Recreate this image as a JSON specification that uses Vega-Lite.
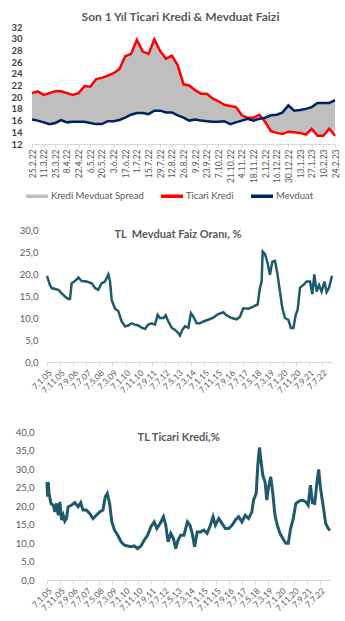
{
  "$schema": "https://vega.github.io/schema/vega-lite/v6.json",
  "padding": {"left": 10, "top": 11, "right": 0, "bottom": 0},
  "background": "white",
  "config": {
    "font": "Lato",
    "view": {"stroke": null},
    "axis": {"labelColor": "#595959", "labelFont": "Lato", "grid": false, "title": null, "domainColor": "#d9d9d9", "tickColor": "#d9d9d9", "labelFlush": false, "labelOverlap": false},
    "title": {"color": "#595959", "font": "Lato", "fontWeight": "bold"},
    "legend": {"labelFont": "Lato", "labelColor": "#595959"}
  },
  "resolve": {"scale": {"color": "independent"}, "legend": {"color": "independent"}},
  "datasets": {
    "top": [
      {"d":"2022-02-25","t":20.7,"m":16.2},{"d":"2022-03-04","t":21.0,"m":16.0},{"d":"2022-03-11","t":20.4,"m":15.7},{"d":"2022-03-18","t":20.7,"m":15.4},{"d":"2022-03-25","t":21.0,"m":15.6},{"d":"2022-04-01","t":21.0,"m":16.1},{"d":"2022-04-08","t":20.7,"m":15.7},{"d":"2022-04-15","t":20.4,"m":15.8},{"d":"2022-04-22","t":20.7,"m":15.8},{"d":"2022-04-29","t":21.9,"m":15.8},{"d":"2022-05-06","t":21.8,"m":15.6},{"d":"2022-05-13","t":23.1,"m":15.4},{"d":"2022-05-20","t":23.3,"m":15.4},{"d":"2022-05-27","t":23.7,"m":15.9},{"d":"2022-06-03","t":24.1,"m":15.9},{"d":"2022-06-10","t":24.8,"m":16.1},{"d":"2022-06-17","t":27.0,"m":16.5},{"d":"2022-06-24","t":27.4,"m":17.0},{"d":"2022-07-01","t":29.8,"m":17.3},{"d":"2022-07-08","t":27.8,"m":17.3},{"d":"2022-07-15","t":27.4,"m":17.1},{"d":"2022-07-22","t":29.9,"m":17.7},{"d":"2022-07-29","t":27.9,"m":17.7},{"d":"2022-08-05","t":26.6,"m":17.4},{"d":"2022-08-12","t":27.1,"m":17.4},{"d":"2022-08-19","t":25.5,"m":16.9},{"d":"2022-08-26","t":22.2,"m":16.5},{"d":"2022-09-02","t":22.0,"m":16.0},{"d":"2022-09-09","t":21.2,"m":16.2},{"d":"2022-09-16","t":20.6,"m":16.0},{"d":"2022-09-23","t":20.6,"m":15.9},{"d":"2022-09-30","t":19.8,"m":15.8},{"d":"2022-10-07","t":19.3,"m":15.8},{"d":"2022-10-14","t":18.7,"m":15.9},{"d":"2022-10-21","t":18.5,"m":15.4},{"d":"2022-10-28","t":18.3,"m":15.7},{"d":"2022-11-04","t":16.9,"m":16.0},{"d":"2022-11-11","t":16.5,"m":16.3},{"d":"2022-11-18","t":16.5,"m":16.0},{"d":"2022-11-25","t":17.0,"m":16.3},{"d":"2022-12-02","t":15.8,"m":16.5},{"d":"2022-12-09","t":14.2,"m":16.9},{"d":"2022-12-16","t":13.9,"m":17.0},{"d":"2022-12-23","t":13.7,"m":17.4},{"d":"2022-12-30","t":14.1,"m":18.6},{"d":"2023-01-06","t":14.0,"m":17.7},{"d":"2023-01-13","t":13.9,"m":17.8},{"d":"2023-01-20","t":13.6,"m":18.0},{"d":"2023-01-27","t":14.6,"m":18.3},{"d":"2023-02-03","t":13.4,"m":19.0},{"d":"2023-02-10","t":13.4,"m":19.0},{"d":"2023-02-17","t":14.6,"m":19.0},{"d":"2023-02-24","t":13.4,"m":19.5}
    ],
    "mev": [
      {"d":"2005-01-07","v":19.6},{"d":"2005-03-15","v":17.5},{"d":"2005-04-25","v":16.8},{"d":"2005-07-12","v":16.6},{"d":"2005-09-28","v":16.4},{"d":"2005-12-15","v":15.6},{"d":"2006-03-01","v":14.9},{"d":"2006-05-15","v":14.3},{"d":"2006-06-25","v":14.3},{"d":"2006-08-03","v":17.9},{"d":"2006-10-18","v":18.4},{"d":"2007-01-06","v":19.2},{"d":"2007-03-22","v":18.4},{"d":"2007-07-15","v":18.3},{"d":"2007-11-12","v":17.9},{"d":"2008-01-28","v":16.8},{"d":"2008-04-12","v":16.4},{"d":"2008-07-01","v":17.9},{"d":"2008-09-15","v":18.3},{"d":"2008-12-03","v":19.9},{"d":"2009-01-10","v":18.3},{"d":"2009-02-18","v":14.1},{"d":"2009-05-06","v":12.1},{"d":"2009-07-21","v":11.6},{"d":"2009-10-08","v":9.2},{"d":"2009-12-24","v":8.1},{"d":"2010-03-10","v":8.3},{"d":"2010-05-27","v":8.8},{"d":"2010-08-12","v":8.5},{"d":"2010-11-01","v":8.3},{"d":"2011-01-15","v":7.8},{"d":"2011-04-03","v":7.5},{"d":"2011-06-18","v":8.5},{"d":"2011-09-06","v":8.8},{"d":"2011-11-21","v":8.5},{"d":"2012-01-22","v":10.7},{"d":"2012-03-15","v":10.0},{"d":"2012-06-02","v":10.0},{"d":"2012-07-25","v":10.6},{"d":"2012-09-27","v":9.2},{"d":"2012-12-12","v":7.8},{"d":"2013-03-01","v":7.3},{"d":"2013-05-15","v":6.6},{"d":"2013-06-24","v":6.0},{"d":"2013-08-18","v":7.3},{"d":"2013-10-18","v":8.1},{"d":"2014-01-04","v":7.8},{"d":"2014-03-06","v":11.1},{"d":"2014-05-01","v":10.3},{"d":"2014-07-16","v":8.8},{"d":"2014-10-01","v":8.8},{"d":"2014-12-18","v":9.2},{"d":"2015-04-12","v":9.6},{"d":"2015-08-07","v":10.1},{"d":"2015-12-01","v":10.9},{"d":"2016-03-27","v":11.3},{"d":"2016-06-12","v":10.6},{"d":"2016-10-07","v":10.0},{"d":"2017-02-01","v":9.7},{"d":"2017-04-18","v":10.3},{"d":"2017-07-03","v":12.2},{"d":"2017-10-28","v":12.1},{"d":"2018-02-23","v":12.6},{"d":"2018-06-03","v":13.1},{"d":"2018-07-25","v":16.8},{"d":"2018-09-03","v":18.3},{"d":"2018-09-27","v":25.1},{"d":"2018-11-21","v":24.5},{"d":"2019-01-22","v":22.4},{"d":"2019-03-15","v":19.8},{"d":"2019-05-09","v":22.8},{"d":"2019-07-10","v":23.0},{"d":"2019-09-09","v":19.8},{"d":"2019-11-03","v":16.0},{"d":"2019-12-28","v":12.2},{"d":"2020-02-28","v":10.0},{"d":"2020-05-15","v":9.6},{"d":"2020-07-15","v":7.7},{"d":"2020-09-09","v":7.7},{"d":"2020-11-03","v":10.7},{"d":"2020-12-18","v":11.9},{"d":"2021-02-12","v":16.9},{"d":"2021-04-28","v":17.5},{"d":"2021-07-15","v":18.3},{"d":"2021-10-01","v":18.3},{"d":"2021-11-24","v":15.4},{"d":"2022-01-09","v":19.9},{"d":"2022-03-04","v":16.0},{"d":"2022-04-28","v":17.5},{"d":"2022-06-28","v":16.0},{"d":"2022-09-01","v":18.3},{"d":"2022-10-22","v":15.9},{"d":"2022-12-15","v":16.8},{"d":"2023-02-24","v":19.6}
    ],
    "kredi": [
      {"d":"2005-01-07","v":26.5},{"d":"2005-01-21","v":22.5},{"d":"2005-02-04","v":26.5},{"d":"2005-02-24","v":23.4},{"d":"2005-04-10","v":20.7},{"d":"2005-06-03","v":20.2},{"d":"2005-07-11","v":18.4},{"d":"2005-08-19","v":20.7},{"d":"2005-09-28","v":17.5},{"d":"2005-11-06","v":21.1},{"d":"2005-12-14","v":16.2},{"d":"2006-01-22","v":17.5},{"d":"2006-02-28","v":15.9},{"d":"2006-04-08","v":16.6},{"d":"2006-05-16","v":19.8},{"d":"2006-08-03","v":20.2},{"d":"2006-10-19","v":20.9},{"d":"2007-01-06","v":19.8},{"d":"2007-03-07","v":20.9},{"d":"2007-04-29","v":18.9},{"d":"2007-07-16","v":18.9},{"d":"2007-10-03","v":18.0},{"d":"2007-12-19","v":16.6},{"d":"2008-03-06","v":17.5},{"d":"2008-05-21","v":18.4},{"d":"2008-08-08","v":18.9},{"d":"2008-10-02","v":22.5},{"d":"2008-11-17","v":23.4},{"d":"2009-01-11","v":20.7},{"d":"2009-03-04","v":15.7},{"d":"2009-05-05","v":13.5},{"d":"2009-07-21","v":12.1},{"d":"2009-10-08","v":10.3},{"d":"2009-12-23","v":9.4},{"d":"2010-03-10","v":9.2},{"d":"2010-05-26","v":9.0},{"d":"2010-08-13","v":9.2},{"d":"2010-10-28","v":8.5},{"d":"2011-01-15","v":9.2},{"d":"2011-04-02","v":10.8},{"d":"2011-06-18","v":12.1},{"d":"2011-09-05","v":14.4},{"d":"2011-11-20","v":15.7},{"d":"2012-01-21","v":13.9},{"d":"2012-04-08","v":15.3},{"d":"2012-06-24","v":17.1},{"d":"2012-08-17","v":14.8},{"d":"2012-10-11","v":10.3},{"d":"2012-12-12","v":12.6},{"d":"2013-02-13","v":11.2},{"d":"2013-04-07","v":8.5},{"d":"2013-06-01","v":10.8},{"d":"2013-08-02","v":12.1},{"d":"2013-10-18","v":12.1},{"d":"2014-01-05","v":15.7},{"d":"2014-03-06","v":14.8},{"d":"2014-04-28","v":12.6},{"d":"2014-06-22","v":9.0},{"d":"2014-08-23","v":13.0},{"d":"2014-11-10","v":13.0},{"d":"2015-01-25","v":13.5},{"d":"2015-04-12","v":12.6},{"d":"2015-06-27","v":14.8},{"d":"2015-08-28","v":17.1},{"d":"2015-10-22","v":14.8},{"d":"2016-01-10","v":16.6},{"d":"2016-03-25","v":15.3},{"d":"2016-06-12","v":13.9},{"d":"2016-08-28","v":13.9},{"d":"2016-11-14","v":14.8},{"d":"2017-02-02","v":16.2},{"d":"2017-04-17","v":17.1},{"d":"2017-07-04","v":15.7},{"d":"2017-09-20","v":17.5},{"d":"2017-12-07","v":16.6},{"d":"2018-02-22","v":18.4},{"d":"2018-04-02","v":21.6},{"d":"2018-06-03","v":23.4},{"d":"2018-07-10","v":31.0},{"d":"2018-08-18","v":35.8},{"d":"2018-09-26","v":31.9},{"d":"2018-11-05","v":28.3},{"d":"2018-12-28","v":26.5},{"d":"2019-02-06","v":21.6},{"d":"2019-03-14","v":24.7},{"d":"2019-05-08","v":27.9},{"d":"2019-06-23","v":23.8},{"d":"2019-08-17","v":17.5},{"d":"2019-10-10","v":14.8},{"d":"2019-12-12","v":12.6},{"d":"2020-02-27","v":11.0},{"d":"2020-04-28","v":9.9},{"d":"2020-06-22","v":9.9},{"d":"2020-08-16","v":13.9},{"d":"2020-10-17","v":16.6},{"d":"2020-12-18","v":20.7},{"d":"2021-03-05","v":21.3},{"d":"2021-05-20","v":21.6},{"d":"2021-08-07","v":21.1},{"d":"2021-10-01","v":20.2},{"d":"2021-11-23","v":25.6},{"d":"2022-01-10","v":20.9},{"d":"2022-03-04","v":20.7},{"d":"2022-04-26","v":26.5},{"d":"2022-06-05","v":29.9},{"d":"2022-07-13","v":25.2},{"d":"2022-09-14","v":20.2},{"d":"2022-11-15","v":15.3},{"d":"2023-01-09","v":14.0},{"d":"2023-02-24","v":13.4}
    ]
  },
  "spacing": 24,
  "vconcat": [
    {
      "data": {"name": "top"},
      "width": 288,
      "height": 117,
      "title": {"text": "Son 1 Yıl Ticari Kredi & Mevduat Faizi", "fontSize": 12, "anchor": "middle", "frame": "bounds", "offset": -2},
      "encoding": {
        "x": {"field": "d", "type": "temporal",
          "scale": {"domain": [{"year":2022,"month":2,"date":25},{"year":2023,"month":2,"date":24}], "range": [-15, 288]},
          "axis": {"values": [{"year":2022,"month":2,"date":25},{"year":2022,"month":3,"date":11},{"year":2022,"month":3,"date":25},{"year":2022,"month":4,"date":8},{"year":2022,"month":4,"date":22},{"year":2022,"month":5,"date":6},{"year":2022,"month":5,"date":20},{"year":2022,"month":6,"date":3},{"year":2022,"month":6,"date":17},{"year":2022,"month":7,"date":1},{"year":2022,"month":7,"date":15},{"year":2022,"month":7,"date":29},{"year":2022,"month":8,"date":12},{"year":2022,"month":8,"date":26},{"year":2022,"month":9,"date":9},{"year":2022,"month":9,"date":23},{"year":2022,"month":10,"date":7},{"year":2022,"month":10,"date":21},{"year":2022,"month":11,"date":4},{"year":2022,"month":11,"date":18},{"year":2022,"month":12,"date":2},{"year":2022,"month":12,"date":16},{"year":2022,"month":12,"date":30},{"year":2023,"month":1,"date":13},{"year":2023,"month":1,"date":27},{"year":2023,"month":2,"date":10},{"year":2023,"month":2,"date":24}],
            "format": "%-d.%-m.%y", "labelAngle": -90, "labelFontSize": 8.5, "tickSize": 3, "labelPadding": 2}
        }
      },
      "layer": [
        {
          "mark": {"type": "area", "opacity": 1},
          "encoding": {
            "y": {"field": "t", "type": "quantitative", "scale": {"domain": [12, 32], "nice": false},
              "axis": {"values": [12,14,16,18,20,22,24,26,28,30,32], "domain": false, "ticks": false, "labelFontWeight": "bold", "labelColor": "#404040", "labelFontSize": 9.5, "labelPadding": 25}},
            "y2": {"field": "m"},
            "color": {"datum": "Kredi Mevduat Spread",
              "scale": {"domain": ["Kredi Mevduat Spread", "Ticari Kredi", "Mevduat"], "range": ["#bfbfbf", "#ff0000", "#002060"]},
              "legend": {"orient": "none", "legendX": -21, "legendY": 158, "direction": "horizontal", "title": null, "symbolType": "M-1,-0.16H1V0.16H-1Z", "symbolSize": 484, "symbolStrokeWidth": 0, "symbolOpacity": 1, "labelFontSize": 9.5, "labelOffset": 3, "columnPadding": 17}}
          }
        },
        {
          "mark": {"type": "line", "strokeWidth": 2.5},
          "encoding": {
            "y": {"field": "t", "type": "quantitative", "scale": {"domain": [12, 32], "nice": false},
              "axis": {"values": [12,14,16,18,20,22,24,26,28,30,32], "domain": false, "ticks": false, "labelFontWeight": "bold", "labelColor": "#404040", "labelFontSize": 9.5, "labelPadding": 25}},
            "color": {"datum": "Ticari Kredi"}
          }
        },
        {
          "mark": {"type": "line", "strokeWidth": 2.5},
          "encoding": {
            "y": {"field": "m", "type": "quantitative", "scale": {"domain": [12, 32], "nice": false},
              "axis": {"values": [12,14,16,18,20,22,24,26,28,30,32], "domain": false, "ticks": false, "labelFontWeight": "bold", "labelColor": "#404040", "labelFontSize": 9.5, "labelPadding": 25}},
            "color": {"datum": "Mevduat"}
          }
        }
      ]
    },
    {
      "spacing": 32,
      "vconcat": [
        {
          "data": {"name": "mev"},
          "width": 285,
          "height": 132,
          "encoding": {
            "x": {"field": "d", "type": "temporal",
              "scale": {"domain": [{"year":2005,"month":1,"date":7},{"year":2023,"month":2,"date":24}]},
              "axis": {"values": [{"year":2005,"month":1,"date":7},{"year":2005,"month":11,"date":7},{"year":2006,"month":9,"date":7},{"year":2007,"month":7,"date":7},{"year":2008,"month":5,"date":7},{"year":2009,"month":3,"date":7},{"year":2010,"month":1,"date":7},{"year":2010,"month":11,"date":7},{"year":2011,"month":9,"date":7},{"year":2012,"month":7,"date":7},{"year":2013,"month":5,"date":7},{"year":2014,"month":3,"date":7},{"year":2015,"month":1,"date":7},{"year":2015,"month":11,"date":7},{"year":2016,"month":9,"date":7},{"year":2017,"month":7,"date":7},{"year":2018,"month":5,"date":7},{"year":2019,"month":3,"date":7},{"year":2020,"month":1,"date":7},{"year":2020,"month":11,"date":7},{"year":2021,"month":9,"date":7},{"year":2022,"month":7,"date":7}],
                "format": "%-d.%-m.%y", "labelAngle": -45, "labelFontSize": 8.5, "tickSize": 4, "labelPadding": 2}
            },
            "y": {"field": "v", "type": "quantitative", "scale": {"domain": [0, 30], "nice": false},
              "axis": {"values": [0,5,10,15,20,25,30], "labelExpr": "replace(format(datum.value, '.1f'), '.', ',')", "domain": false, "ticks": false, "labelPadding": 9, "labelFontSize": 9.5}}
          },
          "layer": [
            {"mark": {"type": "line", "color": "#1f5a6b", "strokeWidth": 2.5}},
            {
              "transform": [{"sample": 1}],
              "mark": {"type": "text", "text": "TL\u00a0 Mevduat Faiz Oranı, %", "fontWeight": "bold", "fontSize": 11, "color": "#595959", "baseline": "middle", "align": "center"},
              "encoding": {
                "x": {"datum": {"year": 2013, "month": 5, "date": 8}},
                "y": {"datum": 28.9}
              }
            }
          ]
        },
        {
          "data": {"name": "kredi"},
          "width": 283,
          "height": 148,
          "encoding": {
            "x": {"field": "d", "type": "temporal",
              "scale": {"domain": [{"year":2005,"month":1,"date":7},{"year":2023,"month":2,"date":24}]},
              "axis": {"values": [{"year":2005,"month":1,"date":7},{"year":2005,"month":11,"date":7},{"year":2006,"month":9,"date":7},{"year":2007,"month":7,"date":7},{"year":2008,"month":5,"date":7},{"year":2009,"month":3,"date":7},{"year":2010,"month":1,"date":7},{"year":2010,"month":11,"date":7},{"year":2011,"month":9,"date":7},{"year":2012,"month":7,"date":7},{"year":2013,"month":5,"date":7},{"year":2014,"month":3,"date":7},{"year":2015,"month":1,"date":7},{"year":2015,"month":11,"date":7},{"year":2016,"month":9,"date":7},{"year":2017,"month":7,"date":7},{"year":2018,"month":5,"date":7},{"year":2019,"month":3,"date":7},{"year":2020,"month":1,"date":7},{"year":2020,"month":11,"date":7},{"year":2021,"month":9,"date":7},{"year":2022,"month":7,"date":7}],
                "format": "%-d.%-m.%y", "labelAngle": -45, "labelFontSize": 8.5, "tickSize": 4, "labelPadding": 2}
            },
            "y": {"field": "v", "type": "quantitative", "scale": {"domain": [0, 40], "nice": false},
              "axis": {"values": [0,5,10,15,20,25,30,35,40], "labelExpr": "replace(format(datum.value, '.1f'), '.', ',')", "domain": false, "ticks": false, "labelPadding": 13, "labelFontSize": 9.5}}
          },
          "layer": [
            {"mark": {"type": "line", "color": "#1f5a6b", "strokeWidth": 3}},
            {
              "transform": [{"sample": 1}],
              "mark": {"type": "text", "text": "TL Ticari Kredi,%", "fontWeight": "bold", "fontSize": 11, "color": "#595959", "baseline": "middle", "align": "center"},
              "encoding": {
                "x": {"datum": {"year": 2013, "month": 6, "date": 13}},
                "y": {"datum": 38.4}
              }
            }
          ]
        }
      ]
    }
  ]
}
